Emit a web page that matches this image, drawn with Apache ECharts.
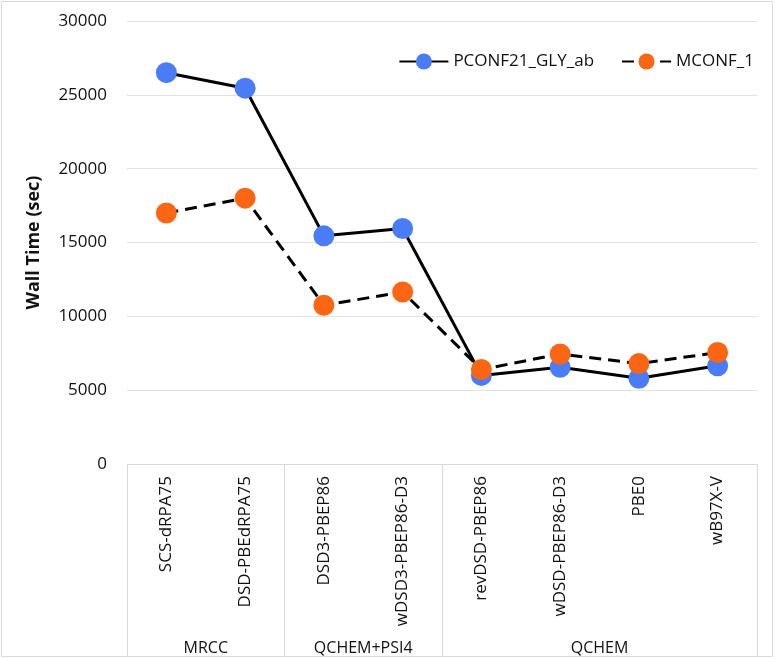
<!DOCTYPE html>
<html>
<head>
<meta charset="utf-8">
<script src="https://cdn.jsdelivr.net/npm/echarts@6/dist/echarts.min.js"></script>
<style>
  html, body { margin: 0; padding: 0; background: #fff; }
  #chart { width: 776px; height: 659px; }
</style>
</head>
<body>
<div id="chart"></div>
<script>
var categories = ['SCS-dRPA75', 'DSD-PBEdRPA75', 'DSD3-PBEP86', 'wDSD3-PBEP86-D3', 'revDSD-PBEP86', 'wDSD-PBEP86-D3', 'PBE0', 'wB97X-V'];
var groupNames = ['MRCC', 'QCHEM+PSI4', 'QCHEM'];
var groupSizes = [2, 2, 4];
var pconfValues = [26500, 25450, 15450, 15950, 6000, 6550, 5800, 6650];
var mconfValues = [17000, 18000, 10750, 11650, 6400, 7450, 6800, 7550];
var seriesNames = ['PCONF21_GLY_ab', 'MCONF_1'];
var yTicks = { min: 0, max: 30000, interval: 5000 };

var FONT = '"Open Sans", "Noto Sans", sans-serif';
var chart = echarts.init(document.getElementById('chart'), null, { renderer: 'canvas' });

// group boundary indices for separator ticks
var boundaryIdx = {};
(function () { var s = 0; groupSizes.forEach(function (n) { boundaryIdx[s] = true; s += n; }); })();

var option = {
  animation: false,
  backgroundColor: '#ffffff',
  grid: { left: 127, right: 19, top: 21, bottom: 195, containLabel: false },
  legend: {
    right: 22, top: 53, padding: 0,
    itemWidth: 49, itemHeight: 20, itemGap: 27,
    textStyle: { fontFamily: FONT, fontSize: 17, color: '#111' },
    data: seriesNames
  },
  xAxis: {
    type: 'category',
    data: categories,
    boundaryGap: true,
    axisLine: { show: true, lineStyle: { color: '#d9d9d9', width: 1 } },
    axisTick: {
      show: true, inside: false, length: 193,
      interval: function (idx) { return !!boundaryIdx[idx]; },
      lineStyle: { color: '#d9d9d9', width: 1 }
    },
    axisLabel: {
      interval: 0, rotate: 90, margin: 12,
      fontFamily: FONT, fontSize: 17, color: '#111'
    },
    splitLine: { show: false }
  },
  yAxis: {
    type: 'value',
    min: yTicks.min, max: yTicks.max, interval: yTicks.interval,
    name: 'Wall Time (sec)',
    nameLocation: 'middle',
    nameGap: 84,
    nameTextStyle: { fontFamily: FONT, fontSize: 18, fontWeight: 'bold', color: '#111' },
    axisLine: { show: false },
    axisTick: { show: false },
    axisLabel: {
      margin: 20, fontFamily: FONT, fontSize: 17, color: '#111',
      formatter: function (v) { return String(v); }
    },
    splitLine: { show: true, lineStyle: { color: '#e2e2e2', width: 1 } }
  },
  series: [
    {
      name: seriesNames[0], type: 'line', data: pconfValues,
      symbol: 'circle', symbolSize: 21,
      itemStyle: { color: '#4a7cf6' },
      lineStyle: { color: '#000', width: 3, type: 'solid' },
      z: 2
    },
    {
      name: seriesNames[1], type: 'line', data: mconfValues,
      symbol: 'circle', symbolSize: 21,
      itemStyle: { color: '#fb6614' },
      lineStyle: { color: '#000', width: 3, type: [12, 7] },
      z: 3
    }
  ]
};
chart.setOption(option);

// group labels centred under their categories, positioned via the axis scale
var graphics = [{
  type: 'rect', silent: true,
  shape: { x: 1.5, y: 1.5, width: 771, height: 655 },
  style: { fill: 'none', stroke: '#d9d9d9', lineWidth: 1 }
}];
var start = 0;
groupNames.forEach(function (g, i) {
  var first = chart.convertToPixel({ xAxisIndex: 0 }, categories[start]);
  var last = chart.convertToPixel({ xAxisIndex: 0 }, categories[start + groupSizes[i] - 1]);
  graphics.push({
    type: 'text', silent: true,
    x: (first + last) / 2, y: 648,
    style: { text: g, fontFamily: FONT, fontSize: 16, fill: '#111', align: 'center', verticalAlign: 'middle' }
  });
  start += groupSizes[i];
});
chart.setOption({ graphic: graphics });
</script>
</body>
</html>
